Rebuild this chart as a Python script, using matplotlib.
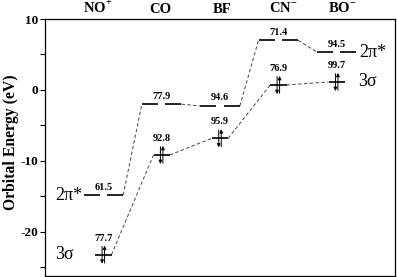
import numpy as np
import matplotlib
matplotlib.use("Agg")
import matplotlib.pyplot as plt
import matplotlib.transforms as mtransforms
from matplotlib.ticker import MultipleLocator

plt.rcParams['font.family'] = 'Liberation Serif'
plt.rcParams['mathtext.fontset'] = 'custom'
plt.rcParams['mathtext.rm'] = 'Liberation Serif:bold'
plt.rcParams['mathtext.bf'] = 'Liberation Serif:bold'
plt.rcParams['axes.unicode_minus'] = False

# molecules, orbital energies (eV) and the % numbers printed on each level
molecules = [r'NO$^{+}$', 'CO', 'BF', r'CN$^{-}$', r'BO$^{-}$']
pi_energy = [-14.8, -2.0, -2.25, 7.0, 5.35]      # 2pi*
sigma_energy = [-23.2, -9.15, -6.8, 0.7, 1.13]   # 3sigma
pi_values = ['61.5', '77.9', '94.6', '71.4', '94.5']
sigma_values = ['77.7', '92.8', '95.9', '76.9', '99.7']

xpos = np.arange(1, len(molecules) + 1)
top_label_x = [0.91, 1.97, 3.03, 4.08, 5.1]

PI_HALF = 0.34   # half width of the 2pi* pair
PI_GAP = 0.065   # half gap between the degenerate pair
SIG_HALF = 0.14  # half width of 3sigma level

fig = plt.figure(figsize=(3.97, 2.77), dpi=100)
ax = fig.add_axes([45/397, 1/277, 350/397, 257/277])
ax.set_xlim(0, 6)
ax.set_ylim(-26.2, 10)

dash_kw = dict(color='#444444', lw=0.7, dashes=(3.5, 2.5))

# connecting dashed lines
for i in range(len(xpos) - 1):
    ax.plot([xpos[i] + PI_HALF, xpos[i+1] - PI_HALF], [pi_energy[i], pi_energy[i+1]], **dash_kw)
    ax.plot([xpos[i] + SIG_HALF, xpos[i+1] - SIG_HALF], [sigma_energy[i], sigma_energy[i+1]], **dash_kw)

for x, e_pi, e_sig, v_pi, v_sig in zip(xpos, pi_energy, sigma_energy, pi_values, sigma_values):
    # 2pi* (two degenerate levels)
    ax.plot([x - PI_HALF, x - PI_GAP], [e_pi, e_pi], color='black', lw=1.2, solid_capstyle='butt')
    ax.plot([x + PI_GAP, x + PI_HALF], [e_pi, e_pi], color='black', lw=1.2, solid_capstyle='butt')
    ax.annotate(v_pi, (x, e_pi), xytext=(0, 2.5), textcoords='offset points',
                ha='center', va='bottom', fontsize=7.5, fontweight='bold')
    # 3sigma level with electron pair
    ax.plot([x - SIG_HALF, x + SIG_HALF], [e_sig, e_sig], color='black', lw=1.2, solid_capstyle='butt')
    up_tr = mtransforms.offset_copy(ax.transData, fig=fig, x=0.9, y=6.5, units='points')
    ax.annotate('', xy=(x, e_sig), xycoords=up_tr, xytext=(0, -12.5), textcoords='offset points',
                arrowprops=dict(arrowstyle='-|>', lw=0.7, color='black', mutation_scale=5,
                                shrinkA=0, shrinkB=0))
    dn_tr = mtransforms.offset_copy(ax.transData, fig=fig, x=-0.9, y=-6.5, units='points')
    ax.annotate('', xy=(x, e_sig), xycoords=dn_tr, xytext=(0, 12.5), textcoords='offset points',
                arrowprops=dict(arrowstyle='-|>', lw=0.7, color='black', mutation_scale=5,
                                shrinkA=0, shrinkB=0))
    ax.annotate(v_sig, (x, e_sig), xytext=(0, 8.5), textcoords='offset points',
                ha='center', va='bottom', fontsize=7.5, fontweight='bold')

# orbital names at both ends
ax.text(0.17, pi_energy[0], '2π*', fontsize=13, ha='left', va='center')
ax.text(0.17, sigma_energy[0], '3σ', fontsize=13, ha='left', va='center')
ax.text(5.38, pi_energy[-1], '2π*', fontsize=13, ha='left', va='center')
ax.text(5.36, sigma_energy[-1], '3σ', fontsize=13, ha='left', va='center')

# molecule names above the frame
top_tr = mtransforms.blended_transform_factory(ax.transData, ax.transAxes)
for xl, name in zip(top_label_x, molecules):
    ax.text(xl, 1.023, name, transform=top_tr, ha='center', va='baseline',
            fontsize=10.5, fontweight='bold')

ax.set_xticks([])
ax.yaxis.set_major_locator(MultipleLocator(10))
ax.yaxis.set_minor_locator(MultipleLocator(5))
ax.tick_params(axis='y', which='both', direction='out', length=3.6, width=0.8, pad=1.5)
for lab in ax.get_yticklabels():
    lab.set_fontweight('bold')
    lab.set_fontsize(9.5)
ax.set_ylabel('Orbital Energy (eV)', fontsize=11.3, fontweight='bold')
ax.yaxis.set_label_coords(-0.075, 0.52)
for sp in ax.spines.values():
    sp.set_linewidth(0.9)

fig.savefig('out.png', dpi=100)
